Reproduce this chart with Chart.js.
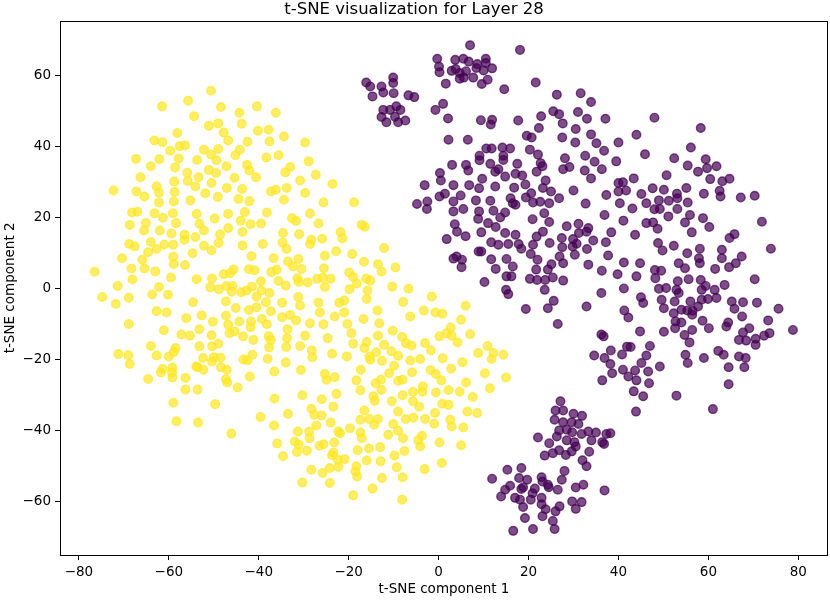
<!DOCTYPE html>
<html>
<head>
<meta charset="utf-8">
<title>t-SNE visualization for Layer 28</title>
<script src="https://cdn.jsdelivr.net/npm/chart.js@4.4.1/dist/chart.umd.min.js"></script>
<style>
  html, body { margin: 0; padding: 0; background: #fff; overflow: hidden; }
  #wrap { width: 830px; height: 600px; }
  canvas { display: block; }
</style>
</head>
<body>
<div id="wrap"><canvas id="tsneChart" width="830" height="600"></canvas></div>
<script>
// t-SNE layer 28 (label 1 = yellow, label 0 = purple)
const chartTitle = 't-SNE visualization for Layer 28';
const xLabel = 't-SNE component 1';
const yLabel = 't-SNE component 2';
const xTicks = [-80, -60, -40, -20, 0, 20, 40, 60, 80];
const yTicks = [-60, -40, -20, 0, 20, 40, 60];

// label 1 (yellow cluster, left)
const label1Points = [
  [-50.6,55.8],[-55.7,53.0],[-61.5,51.4],[-48.4,51.2],[-40.4,51.4],[-44.3,49.6],[-36.2,49.6],[-54.4,48.6],
  [-51.1,45.9],[-49.0,46.6],[-43.8,46.5],[-40.2,44.5],[-37.8,44.8],[-47.8,44.0],[-58.1,43.9],[-34.4,42.9],
  [-63.2,41.8],[-61.4,41.3],[-46.8,41.8],[-42.5,41.4],[-37.6,41.5],[-57.6,40.2],[-56.4,40.4],[-59.7,38.9],
  [-52.2,39.2],[-49.0,39.4],[-44.2,39.2],[-45.2,37.6],[-35.6,37.6],[-38.3,37.0],[-67.3,36.6],[-62.1,36.5],
  [-57.8,36.7],[-53.7,36.3],[-50.6,37.8],[-49.4,36.2],[-47.2,34.5],[-64.0,34.5],[-58.6,34.2],[-51.1,33.5],
  [-49.5,32.6],[-42.6,34.9],[-42.1,33.3],[-34.1,32.8],[-33.0,34.3],[-55.9,32.7],[-53.4,31.4],[-40.6,31.4],
  [-66.3,31.4],[-45.4,31.3],[-55.8,30.4],[-58.8,30.2],[-50.5,29.8],[-62.7,28.8],[-54.1,28.8],[-72.3,27.7],
  [-67.2,27.4],[-62.2,27.1],[-58.7,27.3],[-51.9,26.9],[-47.1,28.4],[-43.7,28.1],[-49.1,25.9],[-37.3,27.4],
  [-36.2,27.9],[-33.8,28.4],[-65.4,26.0],[-58.9,24.6],[-62.2,24.3],[-55.2,24.9],[-44.5,25.3],[-42.1,24.7],
  [-34.4,25.1],[-68.2,21.5],[-67.0,21.7],[-63.2,21.3],[-61.3,20.0],[-59.1,21.3],[-53.8,21.1],[-49.8,19.8],
  [-46.8,21.1],[-43.1,21.6],[-38.2,21.5],[-32.6,19.9],[-68.7,18.0],[-65.1,18.5],[-58.4,18.5],[-53.2,18.3],
  [-44.0,19.2],[-41.8,18.2],[-39.5,18.4],[-46.8,17.1],[-65.5,16.4],[-62.0,16.4],[-52.2,16.4],[-59.4,15.6],
  [-48.6,15.3],[-43.6,16.0],[-54.1,14.6],[-56.5,15.2],[-56.5,13.8],[-34.6,15.7],[-64.0,13.2],[-48.9,12.9],
  [-68.8,12.6],[-67.6,11.9],[-61.0,12.5],[-59.0,12.4],[-52.2,12.1],[-43.6,12.2],[-39.1,12.6],[-34.7,13.0],
  [-50.5,10.8],[-33.8,11.2],[-64.6,10.3],[-62.7,11.2],[-54.7,10.0],[-59.0,9.0],[-41.6,9.2],[-36.7,8.6],
  [-70.4,8.6],[-65.9,8.2],[-58.9,7.0],[-56.4,6.7],[-33.5,7.7],[-68.3,5.7],[-65.4,5.7],[-63.0,4.9],
  [-76.5,4.8],[-45.6,5.4],[-42.2,5.5],[-40.9,5.2],[-36.0,5.4],[-37.2,4.7],[-47.8,4.1],[-46.4,4.4],
  [-68.1,2.6],[-59.5,3.2],[-53.8,2.7],[-50.4,2.9],[-39.5,2.1],[-35.6,2.2],[-71.4,0.8],[-62.2,0.5],
  [-50.8,0.4],[-48.9,-0.1],[-47.2,0.8],[-45.8,0.8],[-43.9,-1.0],[-42.7,-0.5],[-41.5,0.6],[-39.4,-0.5],
  [-37.6,-1.2],[-34.0,0.9],[-74.8,-2.3],[-68.9,-2.5],[-63.7,-1.6],[-60.2,-1.7],[-46.0,-0.8],[-40.5,-2.2],
  [-29.7,41.2],
  [-71.8,-4.3],[-62.7,-6.3],[-60.5,-6.7],[-54.6,-3.8],[-47.3,-3.6],[-45.1,-5.4],[-42.2,-6.0],[-40.5,-5.2],
  [-38.4,-3.8],[-37.3,-6.3],[-34.8,-3.9],[-34.8,-8.0],[-33.0,-7.4],[-68.9,-9.9],[-56.1,-8.3],[-52.7,-7.5],
  [-50.2,-9.3],[-47.3,-7.6],[-46.8,-10.1],[-44.3,-9.2],[-41.7,-9.2],[-41.8,-10.8],[-39.3,-8.5],[-38.2,-10.0],
  [-61.1,-11.7],[-57.2,-12.9],[-55.3,-13.2],[-53.2,-11.4],[-50.5,-13.1],[-46.5,-12.5],[-45.4,-12.0],[-43.5,-13.4],
  [-41.2,-14.4],[-37.8,-13.4],[-37.3,-14.4],[-33.6,-11.4],[-33.7,-13.9],[-64.0,-16.1],[-53.2,-16.2],[-50.4,-16.2],
  [-49.0,-15.5],[-37.7,-16.5],[-33.9,-16.4],[-71.2,-18.4],[-69.0,-18.7],[-68.7,-21.2],[-62.7,-18.8],[-60.0,-19.1],
  [-58.9,-17.8],[-58.5,-16.7],[-52.4,-19.5],[-50.0,-19.3],[-48.5,-19.4],[-50.4,-20.5],[-43.4,-19.9],[-42.5,-20.1],
  [-41.4,-18.6],[-38.0,-19.7],[-34.0,-20.8],[-61.4,-22.6],[-61.8,-23.6],[-59.2,-22.2],[-59.3,-23.6],[-59.2,-25.0],
  [-53.9,-21.9],[-53.6,-22.1],[-52.3,-22.8],[-48.4,-22.1],[-47.1,-22.8],[-36.5,-23.3],[-64.6,-25.4],[-56.3,-25.1],
  [-47.3,-25.5],[-47.0,-26.4],[-42.0,-24.7],[-44.7,-27.8],[-56.3,-28.4],[-53.6,-28.4],[-59.0,-32.1],[-49.7,-32.5],
  [-36.5,-31.0],[-58.3,-37.3],[-53.5,-37.7],[-39.6,-36.1],[-36.6,-38.5],[-33.5,-35.2],[-46.1,-40.8],[-35.9,-43.6],
  [-28.9,35.9],[-27.3,32.1],[-30.8,30.5],[-29.7,27.0],[-23.6,29.5],[-25.6,24.3],[-18.8,24.4],[-28.6,21.2],
  [-31.7,19.1],[-26.7,18.4],[-31.0,15.4],[-25.9,14.1],[-28.3,13.8],[-28.6,12.6],[-21.8,16.0],[-21.4,14.2],
  [-17.1,18.0],[-16.4,17.5],[-12.1,11.5],[-22.8,10.6],[-25.3,9.3],[-19.2,9.8],[-31.2,8.4],[-16.6,7.6],
  [-13.5,6.9],[-12.7,4.8],[-9.6,6.0],[-25.5,5.8],[-30.5,5.6],[-32.4,6.3],[-27.0,2.8],[-25.7,3.1],
  [-24.0,2.8],[-25.3,0.5],[-19.9,4.6],[-19.0,3.3],[-18.2,1.5],[-16.1,2.9],[-15.2,2.3],[-19.8,-0.1],
  [-15.8,-0.5],[-10.3,0.6],[-6.7,0.0],[-31.4,3.0],[-29.1,1.8],[-31.1,1.9],[-31.2,-2.3],[-16.0,-2.9],
  [-1.5,-2.2],[-30.8,-4.7],[-26.7,-3.9],[-26.4,-6.7],[-23.1,-7.8],[-22.1,-3.9],[-21.0,-3.3],[-21.0,-6.7],
  [-16.7,-8.5],[-13.6,-6.1],[-7.9,-3.7],[-6.3,-7.8],[-3.3,-6.1],[-0.7,-6.7],[0.8,-7.0],[6.0,-4.8],
  [5.0,-8.7],[2.7,-10.9],[-31.7,-8.9],[-28.6,-9.7],[-25.6,-10.0],[-20.3,-9.9],[-13.2,-9.7],
  [-29.7,-13.2],[-24.7,-13.9],[-19.4,-12.5],[-19.0,-15.5],[-16.0,-15.0],[-13.5,-13.2],[-12.1,-15.8],[-10.2,-11.8],
  [-8.1,-13.6],[-7.3,-15.3],[-6.0,-16.0],[-3.0,-15.3],[-1.7,-17.4],[0.2,-13.4],[1.8,-12.5],[2.9,-13.2],
  [4.2,-15.1],[7.0,-12.8],[10.9,-16.1],[12.2,-18.1],[14.4,-18.6],[8.8,-18.1],[-30.8,-16.1],[-28.2,-17.4],
  [-28.1,-19.3],[-23.7,-18.3],[-20.4,-19.1],[-16.5,-16.7],[-15.4,-19.1],[-15.2,-20.0],[-13.9,-17.9],[-12.6,-20.3],
  [-10.5,-17.6],[-9.9,-21.7],[-9.0,-18.9],[-6.3,-20.2],[-4.1,-19.8],[0.9,-19.6],[5.3,-20.7],[11.8,-19.8],
  [10.3,-23.8],[15.0,-25.0],[11.4,-28.0],[-30.6,-22.9],[-25.3,-24.0],[-24.9,-25.6],[-23.1,-24.9],[-17.3,-22.8],
  [-18.3,-25.8],[-17.4,-28.6],[-14.0,-26.6],[-12.8,-25.6],[-12.7,-28.5],[-11.0,-23.8],[-9.0,-25.9],[-8.0,-25.6],
  [-5.9,-23.5],[-1.8,-22.9],[-0.6,-24.0],[0.6,-25.8],[2.8,-22.5],[6.1,-26.4],[-30.3,-30.0],[-22.7,-29.6],
  [-26.0,-31.1],[-23.4,-33.2],[-14.5,-30.3],[-14.2,-31.6],[-10.4,-31.7],[-8.0,-30.0],[-5.7,-29.0],[-3.6,-29.0],
  [-3.5,-27.5],[-5.7,-31.7],[-4.3,-33.2],[-0.6,-29.2],[0.8,-32.4],[2.2,-28.5],[2.2,-32.7],[4.7,-29.0],
  [7.6,-30.5],[6.4,-34.6],[8.6,-35.0],[5.5,-39.1],[2.6,-36.9],[2.9,-38.8],[5.0,-44.1],[0.2,-43.3],
  [-1.0,-38.0],[-0.8,-35.0],[-3.0,-36.7],[-3.7,-41.4],[-4.5,-42.7],[-4.1,-44.4],[-5.6,-36.3],[-7.3,-36.7],
  [-9.0,-34.6],[-10.1,-38.1],[-11.2,-41.1],[-9.0,-40.0],[-7.9,-42.1],[-7.6,-45.7],[-9.8,-47.0],[-9.3,-50.3],
  [-8.0,-53.1],[-12.6,-53.3],[-13.0,-44.6],[-15.5,-45.0],[-16.0,-48.4],[-18.3,-50.0],[-18.5,-51.5],[-18.1,-52.9],
  [-14.7,-56.3],[-19.0,-58.2],[-8.1,-59.4],[-17.4,-36.9],[-16.5,-34.3],[-15.4,-36.7],[-13.5,-36.7],[-14.3,-38.3],
  [-19.7,-39.3],[-21.9,-40.7],[-22.3,-40.2],[-17.4,-40.5],[-17.1,-42.1],[-23.2,-43.3],[-25.6,-43.8],[-26.5,-44.2],
  [-31.1,-43.9],[-32.0,-43.0],[-31.5,-46.0],[-29.3,-45.6],[-28.8,-40.2],[-28.7,-42.1],[-31.3,-40.2],[-27.2,-38.5],
  [-28.3,-33.8],[-27.7,-35.5],[-26.0,-35.7],[-24.0,-37.7],[-23.7,-46.9],[-23.4,-46.1],[-20.9,-48.0],[-22.4,-48.2],
  [-22.3,-50.2],[-24.2,-50.5],[-25.8,-51.9],[-28.3,-51.0],[-24.2,-54.7],[-30.3,-54.6],[-34.6,-47.2],[-18.0,-45.5],
  [-12.9,-48.6],[-3.1,-50.8],[0.7,-49.1]
];

// label 0 (purple cluster, right)
const label0Points = [
  [7.0,68.6],[18.1,67.3],[-0.3,64.8],[0.1,62.6],[0.2,61.0],[3.7,64.5],[5.5,64.8],[6.7,64.0],
  [8.6,63.3],[10.5,64.8],[10.5,63.6],[11.9,62.1],[10.0,61.5],[8.4,62.2],[2.9,61.4],[3.8,61.9],
  [4.7,60.8],[6.1,61.3],[4.7,59.2],[5.6,59.5],[7.7,59.5],[9.6,57.7],[10.9,58.9],[1.6,57.8],
  [21.6,58.1],[14.6,56.2],[-16.1,58.1],[-15.2,57.0],[-12.7,57.0],[-10.1,59.5],[-10.1,58.0],[-14.7,54.2],
  [-12.3,55.3],[-10.0,55.1],[-6.7,54.5],[-5.4,54.0],[-12.3,50.4],[-10.8,50.4],[-9.4,51.4],[-8.5,50.4],
  [-12.7,48.4],[-11.6,46.9],[-9.7,48.5],[-9.0,46.9],[-7.4,47.4],[-0.7,50.4],[1.0,52.1],[2.1,48.0],
  [9.4,47.5],[11.6,46.3],[11.9,47.6],[17.7,47.4],[26.3,54.7],[31.6,55.1],[33.9,52.6],[25.5,50.0],
  [26.8,49.2],[31.0,49.8],[33.0,47.9],[22.8,48.6],[22.3,45.3],[27.6,46.6],[30.5,45.0],[33.9,43.5],
  [35.1,41.0],[27.5,42.6],[30.4,41.2],[19.6,43.1],[20.7,42.6],[2.2,42.0],[6.5,42.0],[10.6,39.5],
  [11.8,39.5],[14.2,39.8],[15.9,39.5],[20.3,39.2],[22.1,37.8],[14.4,37.5],[14.4,36.3],[9.1,37.5],
  [9.1,36.2],[11.5,35.2],[17.5,35.2],[22.7,35.4],[23.1,34.5],[3.0,34.9],[6.1,34.9],[6.6,33.3],
  [0.3,32.6],[0.5,30.5],[28.1,36.8],[32.6,37.5],[34.7,35.8],[27.7,33.7],[29.1,34.3],[32.5,33.3],
  [33.9,31.1],[13.3,33.7],[12.6,33.0],[14.8,31.6],[17.1,32.4],[18.6,31.9],[21.8,33.0],[23.8,30.5],
  [9.7,31.0],[-3.1,29.2],[3.3,29.2],[6.8,29.2],[9.0,28.3],[12.6,28.8],[16.8,28.5],[19.3,29.4],
  [23.2,28.4],[25.0,27.4],[30.0,27.7],[-4.8,23.9],[-2.5,24.6],[-2.6,22.5],[0.2,26.0],[1.4,26.8],
  [4.9,26.3],[3.3,24.6],[5.5,22.5],[8.3,24.9],[11.5,24.8],[16.0,25.5],[16.5,24.1],[19.4,25.7],
  [20.6,26.9],[21.0,24.3],[22.6,24.5],[24.6,24.1],[26.8,25.5],[32.7,24.0],[3.3,21.8],[9.0,21.8],
  [12.2,22.0],[14.8,21.5],[17.1,23.7],[23.5,21.3],[8.8,19.7],[13.7,20.1],[20.9,19.6],[24.6,18.8],
  [3.6,18.2],[11.0,18.5],[12.7,17.4],[28.5,17.6],[31.1,18.3],[33.3,17.1],
  [37.1,47.9],[48.0,48.2],[58.3,45.3],[44.0,43.4],[40.0,41.2],[36.8,38.9],[45.9,37.9],[39.5,35.9],
  [36.3,33.7],[56.1,39.8],[52.4,36.8],[59.4,36.5],[55.4,34.7],[57.7,33.0],[59.7,34.0],[61.8,34.5],
  [50.7,32.0],[60.4,30.9],[63.1,30.3],[64.7,31.0],[43.4,31.1],[40.0,29.8],[41.0,30.0],[40.0,27.4],
  [41.7,27.7],[37.3,26.4],[45.1,26.7],[47.6,28.3],[50.1,27.9],[53.0,26.8],[55.1,28.4],[59.0,26.8],
  [62.5,27.6],[62.7,26.0],[67.2,25.7],[70.3,26.2],[40.3,24.1],[43.1,22.6],[46.2,24.1],[49.0,24.9],
  [51.2,24.8],[53.1,25.5],[55.4,24.3],[53.1,22.5],[48.0,22.4],[49.2,22.5],
  [14.8,15.7],[17.1,15.2],[21.8,14.7],[23.2,16.1],[27.4,14.3],[29.9,14.0],[31.2,15.7],[32.9,16.1],
  [34.4,13.6],[9.5,15.9],[11.7,13.1],[13.3,12.4],[15.5,12.6],[17.8,12.6],[18.4,11.3],[21.0,12.4],
  [24.7,12.9],[27.5,11.7],[29.8,11.9],[30.7,12.7],[33.0,11.2],[9.5,10.5],[11.7,8.3],[15.1,8.4],
  [20.5,9.8],[22.0,8.2],[25.1,6.9],[26.9,9.1],[27.7,7.2],[30.3,9.6],[33.3,6.8],[12.7,5.6],
  [16.5,6.3],[21.7,5.4],[24.3,5.4],[15.1,3.5],[16.2,3.5],[20.3,2.8],[21.9,2.5],[23.7,2.5],
  [25.4,3.2],[27.7,2.3],[10.2,1.9],[15.0,-0.3],[15.5,-1.5],[23.6,-0.3],[25.6,-3.4],[24.3,-5.5],
  [19.4,-5.7],[32.9,-5.0],[26.5,-9.9],[36.2,-1.2],
  [36.9,20.8],[41.1,19.2],[43.7,15.2],[38.4,15.9],[37.2,13.1],[37.7,9.4],[41.2,7.4],[44.8,7.2],
  [46.2,18.5],[47.7,18.7],[48.7,16.9],[51.1,20.4],[54.8,18.7],[55.9,20.8],[58.8,19.9],[60.2,17.4],
  [56.3,15.9],[48.8,12.9],[49.8,10.8],[52.3,12.1],[55.3,10.0],[58.1,11.3],[57.9,8.6],[53.4,7.2],
  [54.8,5.8],[58.1,7.2],[63.0,11.0],[63.0,8.6],[64.7,14.3],[65.8,15.4],[67.4,9.1],[66.1,7.2],
  [71.9,18.9],[73.9,11.3],[61.5,5.6],[64.6,6.1],[39.8,4.1],[36.3,5.1],[44.0,3.5],[48.1,5.3],
  [49.5,5.1],[48.2,3.0],[53.2,2.1],[55.6,2.7],[58.3,2.5],[59.4,0.8],[61.4,-0.3],[63.6,1.1],
  [70.3,2.7],[41.2,0.1],[49.0,0.0],[50.6,0.2],[52.9,-0.3],[53.4,-1.2],[58.5,-0.3],[45.0,-2.4],
  [45.5,-4.0],[49.6,-3.1],[52.5,-3.6],[56.0,-3.6],[58.5,-3.1],[59.9,-2.9],[61.8,-2.6],[65.2,-3.6],
  [67.7,-3.8],[70.8,-3.9],[65.8,-5.6],[50.1,-5.5],[41.3,-6.1],[42.2,-8.1],[52.3,-6.9],[54.0,-5.9],
  [55.3,-6.1],[56.5,-6.2],[57.7,-5.0],[52.7,-9.2],[54.0,-9.5],[56.4,-7.3],[58.7,-9.0],[52.6,-11.1],
  [56.4,-11.6],[60.1,-11.1],[64.0,-10.6],[64.4,-9.5],[67.5,-7.8],[73.3,-8.9],[75.6,-5.6],[78.8,-11.6],
  [69.1,-11.1],[67.7,-12.3],[66.8,-14.4],[68.4,-14.6],[70.5,-14.1],[70.5,-15.8],[72.4,-13.2],[73.6,-12.5],
  [54.7,-13.0],[55.8,-15.1],[50.1,-12.1],[44.8,-12.0],[62.2,-17.5],[63.4,-18.6],[54.9,-18.6],[55.4,-20.9],
  [59.0,-19.5],[66.8,-19.1],[68.3,-19.5],[68.0,-22.1],[64.5,-22.1],[64.5,-26.9],[61.0,-33.9],[52.9,-30.1],
  [49.2,-21.9],[47.0,-16.1],[46.2,-18.8],[45.1,-20.9],[46.6,-23.3],[46.8,-26.6],[43.9,-34.6],[45.5,-30.3],
  [43.4,-28.9],[44.0,-25.8],[43.7,-23.0],[42.2,-24.7],[41.0,-22.8],[38.6,-23.8],[36.4,-25.8],[38.2,-21.2],
  [40.8,-18.5],[41.9,-16.3],[42.7,-16.4],[36.7,-13.4],[36.2,-12.9],[34.6,-18.8],[36.9,-19.5],[38.3,-17.4],
  [1.8,14.0],[4.1,16.1],[6.0,14.8],[8.9,10.5],[3.3,8.5],[4.0,9.1],[5.2,8.2],[5.1,6.1],
  [27.1,-31.7],[26.0,-34.3],[27.7,-34.3],[30.0,-35.2],[31.9,-35.8],[25.8,-36.9],[27.7,-37.6],[29.6,-37.6],
  [31.1,-38.1],[26.8,-39.9],[28.5,-39.7],[29.7,-40.4],[31.8,-40.9],[33.3,-40.2],[35.0,-40.5],[37.3,-40.9],
  [38.2,-40.7],[26.3,-41.6],[28.5,-42.7],[30.2,-43.2],[30.5,-44.4],[34.0,-42.7],[36.4,-43.2],[36.8,-43.7],
  [22.1,-41.9],[24.6,-43.5],[26.8,-45.5],[25.4,-46.3],[23.6,-47.0],[28.3,-46.8],[29.6,-45.8],[33.5,-45.9],
  [32.0,-48.3],[32.9,-50.0],[15.3,-51.0],[18.4,-50.5],[11.9,-53.5],[17.9,-53.3],[19.7,-53.8],[22.9,-53.1],
  [23.1,-54.3],[28.0,-51.3],[27.4,-53.8],[15.9,-55.5],[14.8,-56.6],[13.9,-58.5],[18.4,-56.4],[18.8,-55.9],
  [21.4,-56.3],[20.9,-57.6],[24.3,-55.2],[24.5,-55.9],[26.5,-56.6],[30.5,-56.0],[32.2,-55.2],[36.9,-56.8],
  [17.0,-58.9],[18.1,-59.4],[20.5,-59.4],[22.9,-58.9],[22.9,-60.7],[18.8,-61.5],[23.8,-62.1],[26.9,-61.3],
  [26.0,-62.7],[29.7,-59.9],[30.5,-62.0],[31.8,-60.1],[19.2,-64.6],[23.1,-64.1],[25.4,-65.4],[25.8,-67.7],
  [21.0,-67.7],[16.6,-68.2]
];

const xRange = [-84.2, 86.6];
const yRange = [-75.0, 75.5];

const yellow = 'rgba(253, 231, 37, 0.7)';
const purple = 'rgba(68, 1, 84, 0.7)';

const toXY = pts => pts.map(p => ({ x: p[0], y: p[1] }));
const minusFmt = v => (v < 0 ? '\u2212' + Math.abs(v) : String(v));

// chart.js keeps a few px on the right for the last tick label; take them back
const plotRight = 828;
const fixRight = {
    id: 'fixRight',
    afterLayout(chart) {
        const x = chart.scales.x;
        x.right = plotRight;
        x.width = plotRight - x.left;
        x.configure();
        chart.chartArea.right = plotRight;
        chart.chartArea.width = plotRight - chart.chartArea.left;
    }
};

// matplotlib style box around the axes
const frame = {
    id: 'frame',
    afterDatasetsDraw(chart) {
        const { ctx, chartArea: a } = chart;
        ctx.save();
        ctx.strokeStyle = '#000';
        ctx.lineWidth = 1;
        ctx.strokeRect(Math.round(a.left) + 0.5, Math.round(a.top) + 0.5,
            Math.round(a.right - a.left) - 1, Math.round(a.bottom - a.top));
        ctx.restore();
    }
};

Chart.defaults.font.family = "'DejaVu Sans', sans-serif";
Chart.defaults.color = '#000';

const ctx = document.getElementById('tsneChart').getContext('2d');
new Chart(ctx, {
    type: 'scatter',
    data: {
        datasets: [
            {
                label: '0',
                data: toXY(label0Points),
                backgroundColor: purple,
                borderColor: purple,
                borderWidth: 1.4,
                pointRadius: 4.3,
                pointHoverRadius: 4.3
            },
            {
                label: '1',
                data: toXY(label1Points),
                backgroundColor: yellow,
                borderColor: yellow,
                borderWidth: 1.4,
                pointRadius: 4.3,
                pointHoverRadius: 4.3
            }
        ]
    },
    options: {
        responsive: false,
        animation: false,
        events: [],
        layout: { padding: { left: 0, right: 2, top: 0, bottom: 0 } },
        plugins: {
            legend: { display: false },
            tooltip: { enabled: false },
            title: {
                display: true,
                text: chartTitle,
                font: { size: 16.5, weight: 'normal' },
                padding: { top: 0, bottom: 1 }
            }
        },
        scales: {
            x: {
                type: 'linear',
                min: xRange[0],
                max: xRange[1],
                afterBuildTicks: s => { s.ticks = xTicks.map(v => ({ value: v })); },
                afterFit: s => { s.height = 45; s.paddingLeft = 0; s.paddingRight = 0; },
                ticks: { callback: minusFmt, font: { size: 13.5 }, padding: 4, maxRotation: 0 },
                grid: { drawOnChartArea: false, drawTicks: true, tickLength: 5, tickColor: '#000', tickWidth: 1 },
                border: { display: false },
                title: { display: true, text: xLabel, font: { size: 13.5 }, padding: { top: 2, bottom: 2 } }
            },
            y: {
                type: 'linear',
                min: yRange[0],
                max: yRange[1],
                afterBuildTicks: s => { s.ticks = yTicks.map(v => ({ value: v })); },
                afterFit: s => { s.width = 60; s.paddingTop = 0; s.paddingBottom = 0; },
                ticks: { callback: minusFmt, font: { size: 13.5 }, padding: 4 },
                grid: { drawOnChartArea: false, drawTicks: true, tickLength: 5, tickColor: '#000', tickWidth: 1 },
                border: { display: false },
                title: { display: true, text: yLabel, font: { size: 13.5 }, padding: { top: 2, bottom: 2 } }
            }
        }
    },
    plugins: [fixRight, frame]
});
</script>
</body>
</html>
